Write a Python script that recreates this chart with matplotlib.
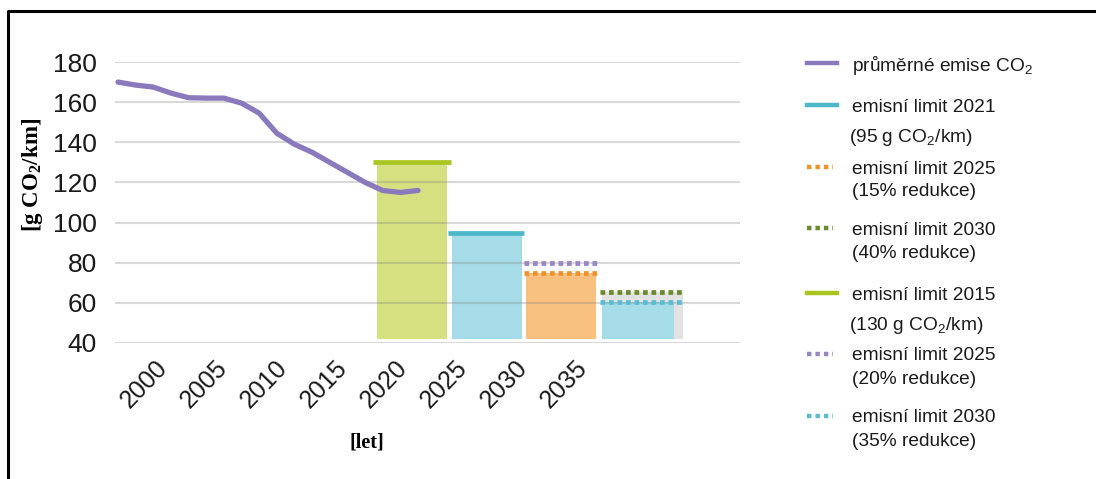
import matplotlib
matplotlib.use('Agg')
import matplotlib.pyplot as plt

plt.rcParams['font.family'] = ['Liberation Sans', 'DejaVu Sans']
plt.rcParams['mathtext.fontset'] = 'custom'
plt.rcParams['mathtext.rm'] = 'Liberation Sans'
plt.rcParams['mathtext.bf'] = 'Liberation Serif:bold'

# average emissions of new cars
years = list(range(2000, 2018))
emise = [170, 168.5, 167.5, 164.5, 162.2, 162, 162, 159.5, 154.5, 144.5,
         139, 135, 130, 125, 120, 116, 115, 116]

# limit periods drawn as bars (left, right, top)
bar_left = [2014.7, 2018.9, 2023.1, 2027.4]
bar_right = [2018.65, 2022.9, 2027.1, 2031.5]
bar_top = [130, 95, 75, 60.5]
bar_colors = ['#d5e180', '#a6dce7', '#f8c17f', '#a6dce7']
grey_left, grey_right, grey_top = 2027.4, 2032.0, 65.5

# limit lines
limit_vals = [130, 95, 75, 80, 65.5, 60.5]
limit_left = [2014.45, 2018.7, 2023.0, 2023.0, 2027.3, 2027.3]
limit_right = [2018.87, 2023.0, 2027.2, 2027.2, 2032.0, 2032.0]
limit_colors = ['#a9c51f', '#4db8c8', '#f0912c', '#9686c4', '#6b8a2a', '#58bdd2']
dotted = [False, False, True, True, True, True]

tick_years = [2000, 2005, 2010, 2015, 2020, 2025, 2030, 2035]
y_ticks = [40, 60, 80, 100, 120, 140, 160, 180]

# legend entries (in the order of the reference)
leg_labels = ['průměrné emise CO$_\\mathrm{2}$',
              'emisní limit 2021\n(95 g CO$_\\mathrm{2}$/km)',
              'emisní limit 2025\n(15% redukce)',
              'emisní limit 2030\n(40% redukce)',
              'emisní limit 2015\n(130 g CO$_\\mathrm{2}$/km)',
              'emisní limit 2025\n(20% redukce)',
              'emisní limit 2030\n(35% redukce)']
leg_colors = ['#8a7abd', '#4db8c8', '#f0912c', '#6b8a2a', '#a9c51f', '#9686c4', '#58bdd2']
leg_dotted = [False, False, True, True, False, True, True]

W, H = 1096, 479
fig = plt.figure(figsize=(W / 100, H / 100), dpi=100)
fig.patch.set_facecolor('white')

# main axes in pixel layout
l, r, t, b = 115, 740, 62, 343
ax = fig.add_axes([l / W, 1 - b / H, (r - l) / W, (b - t) / H])
ax.set_xlim(2000 - 3 / 17.65, 2000 + 622 / 17.65)
ax.set_ylim(40, 180)

ax.fill_between([grey_left, grey_right], 42, grey_top, color='#e2e2e2', lw=0, zorder=1)
for x0, x1, top, c in zip(bar_left, bar_right, bar_top, bar_colors):
    ax.fill_between([x0, x1], 42, top, color=c, lw=0, zorder=1)

for v, x0, x1, c, d in zip(limit_vals, limit_left, limit_right, limit_colors, dotted):
    ls = (0, (1, 0.8)) if d else '-'
    ax.hlines(v, x0, x1, colors=c, linestyles=ls, lw=3.4, zorder=3)

ax.plot(years, emise, color='#8a7abd', lw=3.8, solid_capstyle='round',
        solid_joinstyle='round', zorder=4)

ax.set_yticks(y_ticks)
ax.tick_params(axis='y', length=0, pad=13, labelsize=19, labelcolor='#1a1a1a')
ax.set_xticks([])
ax.set_axisbelow(False)
ax.grid(axis='y', color='#808080', alpha=0.3, lw=1.5)
for s in ax.spines.values():
    s.set_visible(False)

ax.set_ylabel('[g CO$_\\mathbf{2}$/km]', family='Liberation Serif', fontweight='bold',
              fontsize=16.5)
ax.yaxis.set_label_coords(-0.112, 0.598)

# category axis for the year labels
axt = ax.twiny()
axt.set_xlim(2000 - 40 / 12, 2000 + 585 / 12)
axt.xaxis.set_ticks_position('bottom')
axt.set_xticks(tick_years)
axt.set_xticklabels([str(y) for y in tick_years], rotation=46, ha='right',
                    rotation_mode='anchor', fontsize=18, color='#1a1a1a')
axt.tick_params(axis='x', length=0, pad=9)
for s in axt.spines.values():
    s.set_visible(False)
axt.set_xlabel('[let]', family='Liberation Serif', fontweight='bold', fontsize=14.5)
axt.xaxis.set_label_position('bottom')
axt.xaxis.set_label_coords(0.403, -0.32)

# overlay in pixels for legend and frame
ov = fig.add_axes([0, 0, 1, 1])
ov.set_xlim(0, W)
ov.set_ylim(H, 0)
ov.axis('off')
ov.plot([8, 8, W + 5], [H + 5, 11, 11], color='black', lw=2.2)

leg_y = [63, 105, 167, 228, 293, 354, 416]
for y, lab, c, d in zip(leg_y, leg_labels, leg_colors, leg_dotted):
    if d:
        ov.plot([807, 833], [y, y], color=c, lw=3.2, linestyle=(0, (1, 0.9)))
    else:
        ov.plot([807, 837], [y, y], color=c, lw=3.2)
    lines = lab.split('\n')
    ov.text(852, y + 2, lines[0], fontsize=13.8, va='center', ha='left', color='#1a1a1a')
    if len(lines) > 1:
        gap = 30 if 'CO' in lines[1] else 23
        x_off = 849 if 'CO' in lines[1] else 852
        ov.text(x_off, y + 2 + gap, lines[1], fontsize=13.8, va='center', ha='left',
                color='#1a1a1a')

fig.savefig('out.png', dpi=100)
